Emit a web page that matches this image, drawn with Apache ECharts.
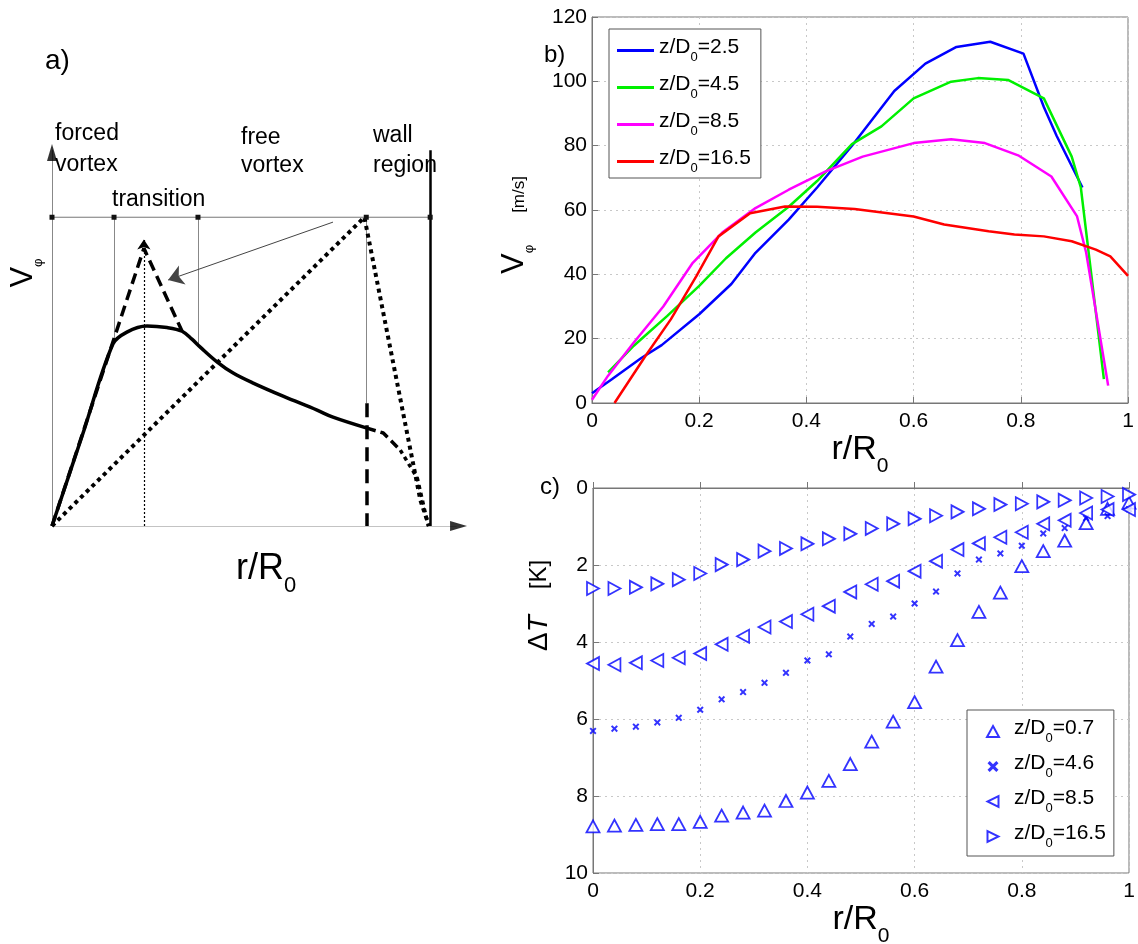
<!DOCTYPE html>
<html><head><meta charset="utf-8">
<script src="https://cdn.jsdelivr.net/npm/echarts@6/dist/echarts.min.js"></script>
<style>html,body{margin:0;padding:0;background:#fff}#c{width:1138px;height:944px}</style>
</head><body><div id="c"></div>
<script>
// ---------------- Panel b : tangential velocity profiles ----------------
const bX_25 = [0,0.037,0.092,0.13,0.2,0.26,0.305,0.367,0.42,0.485,0.564,0.622,0.68,0.743,0.805,0.843,0.867,0.915];
const bV_25 = [3,7.4,14,18,27.6,37,46.7,57,67,80,97,105.5,110.7,112.3,108.6,92,83,67];
const bX_45 = [0.03,0.078,0.14,0.2,0.25,0.305,0.367,0.42,0.485,0.54,0.6,0.67,0.72,0.777,0.843,0.895,0.912,0.955];
const bV_45 = [9.5,17.8,27,36.4,45,53,61,69,80.5,86,94.7,99.9,101,100.4,94.7,76.6,67,7.4];
const bX_85 = [0,0.03,0.078,0.133,0.188,0.243,0.305,0.367,0.436,0.505,0.6,0.67,0.733,0.795,0.857,0.905,0.922,0.963];
const bV_85 = [1,8.5,18.8,30,43.6,53,60.6,66.3,72,76.6,80.8,82,80.8,77,70.4,58,46.7,5.4];
const bX_165 = [0.042,0.1,0.147,0.195,0.236,0.295,0.36,0.42,0.49,0.6,0.657,0.74,0.788,0.843,0.895,0.94,0.967,1.0];
const bV_165 = [0,14.7,26,39.5,51.8,59,61.1,61,60.3,58,55.5,53.4,52.4,51.8,50.3,47.7,45.6,39.5];
const bNames = ['z/D0=2.5','z/D0=4.5','z/D0=8.5','z/D0=16.5'];
const bColors = ['#0000ff','#00f000','#ff00ff','#ff0000'];

// ---------------- Panel c : temperature difference ----------------
const rPos = [0,0.04,0.08,0.12,0.16,0.2,0.24,0.28,0.32,0.36,0.4,0.44,0.48,0.52,0.56,0.6,0.64,0.68,0.72,0.76,0.8,0.84,0.88,0.92,0.96,1.0];
const dT_07 = [8.79,8.77,8.75,8.73,8.73,8.67,8.51,8.43,8.38,8.13,7.91,7.61,7.17,6.59,6.07,5.56,4.64,3.95,3.22,2.72,2.03,1.64,1.37,0.91,0.54,0.38];
const dT_46 = [6.31,6.25,6.2,6.09,5.97,5.76,5.49,5.3,5.06,4.8,4.48,4.32,3.86,3.53,3.34,3.0,2.69,2.22,1.86,1.7,1.5,1.18,1.04,0.78,0.73,0.55];
const dT_85 = [4.56,4.59,4.54,4.48,4.41,4.3,4.06,3.85,3.61,3.47,3.28,3.07,2.7,2.5,2.42,2.16,1.9,1.6,1.44,1.28,1.15,0.93,0.84,0.65,0.56,0.56];
const dT_165 = [2.61,2.61,2.58,2.49,2.38,2.22,1.99,1.86,1.64,1.57,1.45,1.32,1.19,1.05,0.93,0.8,0.72,0.62,0.54,0.43,0.41,0.36,0.32,0.26,0.22,0.17];
const cNames = ['ΔT z/D0=0.7','ΔT z/D0=4.6','ΔT z/D0=8.5','ΔT z/D0=16.5'];

// ---------------- Panel a : schematic (normalised units) ----------------
const aSolidU = [0,0.08,0.161,0.198,0.251,0.304,0.344,0.370,0.392,0.437,0.479,0.532,0.611,0.701,0.743,0.833];
const aSolidV = [0,0.297,0.597,0.636,0.656,0.651,0.639,0.613,0.587,0.538,0.502,0.469,0.426,0.380,0.357,0.321];
const aPeakU = [0,0.243,0.344];
const aPeakV = [0,0.911,0.639];
const aTailDashU = [0.833,0.876,0.921];
const aTailDashV = [0.321,0.305,0.249];
const aTailDotU = [0.921,0.966,0.995];
const aTailDotV = [0.249,0.157,0];
const aBigDotU = [0,0.826,0.974,0.997];
const aBigDotV = [0,1.013,0.085,0];
const aTopU = [0,0.164,0.386,0.831,1.0];
const aTopV = 1.013;
const aThinVert = [[0.164,1.013,0.6],[0.386,1.013,0.59],[0.831,1.013,0.403]];
const aWallDash = [0.831,0.403,0];
const aWall = [1.0,1.233,0];
const aPeakDotted = [0.243,0,0.94];
const aAxisY = [0,0,1.235];
const aAxisX = [0,0,1.07];
const aArrowY = [0, 1.225];
const aArrowX = [1.075, 0];
const aPointer = [[0.743,0.997],[0.307,0.807]];

const FONT = '"Liberation Sans", Arial, sans-serif';
const pairs = (xs, ys) => xs.map((x, i) => [x, ys[i]]);
const subFmt = (name) => { const v = name.split('=')[1]; return '{t|z/D}{s|0}{t|=' + v + '}'; };
const subFmtC = (name) => { const v = name.split('=')[1]; return '{g|}{t|z/D}{s|0}{t|=' + v + '}'; };
const legRich = {
  g: {width: 10},
  t: {fontSize: 21, fontFamily: FONT, color: '#000', padding: [0,0,6,0], verticalAlign: 'bottom'},
  s: {fontSize: 13, fontFamily: FONT, color: '#000', verticalAlign: 'bottom'}
};
const xPath = 'path://M0,2 L2,0 L5,3 L8,0 L10,2 L7,5 L10,8 L8,10 L5,7 L2,10 L0,8 L3,5 Z';
const leftTri = 'path://M10,0 L10,10 L0,5 Z';
const rightTri = 'path://M0,0 L0,10 L10,5 Z';

const axisCommon = {
  axisLine: {show: true, lineStyle: {color: '#777', width: 1}},
  axisTick: {show: true, inside: true, length: 6, lineStyle: {color: '#777'}},
  splitLine: {show: true, lineStyle: {color: '#c8c8c8', type: [2,4], width: 1}},
  axisLabel: {color: '#000', fontSize: 21, fontFamily: FONT}
};

const series = [];
// panel b
[[bX_25,bV_25],[bX_45,bV_45],[bX_85,bV_85],[bX_165,bV_165]].forEach((d, i) => {
  series.push({type: 'line', name: bNames[i], xAxisIndex: 0, yAxisIndex: 0, data: pairs(d[0], d[1]),
    symbol: 'none', lineStyle: {color: bColors[i], width: 2.5}, itemStyle: {color: bColors[i]}, z: 3});
});
// panel c
const triStyle = {color: '#fff', borderColor: '#0000ff', borderWidth: 1.8};
series.push({type: 'scatter', name: cNames[0], xAxisIndex: 1, yAxisIndex: 1, data: pairs(rPos, dT_07),
  symbol: 'triangle', symbolSize: [13, 12], itemStyle: triStyle});
series.push({type: 'scatter', name: cNames[1], xAxisIndex: 1, yAxisIndex: 1, data: pairs(rPos, dT_46),
  symbol: xPath, symbolSize: 7, itemStyle: {color: '#0000ff'}});
series.push({type: 'scatter', name: cNames[2], xAxisIndex: 1, yAxisIndex: 1, data: pairs(rPos, dT_85),
  symbol: 'triangle', symbolRotate: 90, symbolSize: [13, 12], itemStyle: triStyle});
series.push({type: 'scatter', name: cNames[3], xAxisIndex: 1, yAxisIndex: 1, data: pairs(rPos, dT_165),
  symbol: 'triangle', symbolRotate: -90, symbolSize: [13, 12], itemStyle: triStyle});

// panel a
const aLine = (xs, ys, width, type, color, smooth) => ({type: 'line', xAxisIndex: 2, yAxisIndex: 2,
  data: pairs(xs, ys), symbol: 'none', smooth: smooth || false, silent: true,
  lineStyle: {color: color || '#000', width: width, type: type || 'solid', cap: 'butt'}});
series.push(aLine(aBigDotU, aBigDotV, 4, [4,4]));
series.push(aLine(aPeakU, aPeakV, 3.5, [11,6]));
series.push(aLine(aTailDashU, aTailDashV, 3.5, [9,5]));
series.push(aLine(aTailDotU, aTailDotV, 3.5, [4,4]));
series.push(aLine(aSolidU, aSolidV, 3.5, 'solid', '#000', 0.35));
series.push({type: 'line', xAxisIndex: 2, yAxisIndex: 2, silent: true, data: aTopU.map(u => [u, aTopV]),
  symbol: 'rect', symbolSize: 5, showSymbol: true, itemStyle: {color: '#111'},
  lineStyle: {color: '#777', width: 1}});
const seg = (arr) => [[arr[0], arr[1]], [arr[0], arr[2]]];
series.push({type: 'lines', coordinateSystem: 'cartesian2d', xAxisIndex: 2, yAxisIndex: 2, silent: true,
  symbol: 'none', lineStyle: {color: '#888', width: 1, opacity: 1},
  data: aThinVert.map(a => ({coords: seg(a)}))});
series.push({type: 'lines', coordinateSystem: 'cartesian2d', xAxisIndex: 2, yAxisIndex: 2, silent: true,
  symbol: 'none', lineStyle: {color: '#000', width: 3.5, type: [14,8], opacity: 1},
  data: [{coords: seg(aWallDash)}]});
series.push({type: 'lines', coordinateSystem: 'cartesian2d', xAxisIndex: 2, yAxisIndex: 2, silent: true,
  symbol: 'none', lineStyle: {color: '#000', width: 2.5, opacity: 1},
  data: [{coords: seg(aWall)}]});
series.push({type: 'lines', coordinateSystem: 'cartesian2d', xAxisIndex: 2, yAxisIndex: 2, silent: true,
  symbol: ['none', 'arrow'], symbolSize: 10, lineStyle: {color: '#000', width: 1.2, type: [2,2], opacity: 1},
  data: [{coords: seg(aPeakDotted)}]});
series.push({type: 'lines', coordinateSystem: 'cartesian2d', xAxisIndex: 2, yAxisIndex: 2, silent: true,
  symbol: 'none', lineStyle: {color: '#888', width: 1, opacity: 1},
  data: [{coords: seg(aAxisY)}, {coords: [[aAxisX[0], aAxisX[1]], [aAxisX[2], aAxisX[1]]]}]});
series.push({type: 'scatter', xAxisIndex: 2, yAxisIndex: 2, silent: true, data: [aArrowY],
  symbol: 'triangle', symbolSize: [10, 17], itemStyle: {color: '#000'}});
series.push({type: 'scatter', xAxisIndex: 2, yAxisIndex: 2, silent: true, data: [aArrowX],
  symbol: 'triangle', symbolRotate: -90, symbolSize: [10, 17], itemStyle: {color: '#000'}});
series.push({type: 'lines', coordinateSystem: 'cartesian2d', xAxisIndex: 2, yAxisIndex: 2, silent: true,
  symbol: ['none', 'arrow'], symbolSize: 15, lineStyle: {color: '#444', width: 1, opacity: 1},
  data: [{coords: aPointer}]});

const txt = (text, x, y, size, extra) => Object.assign({type: 'text', x: x, y: y,
  style: {text: text, font: size + 'px ' + FONT, fill: '#000', verticalAlign: 'middle'}}, extra || {});

const xNameRich = {r: {fontSize: 34, fontFamily: FONT, color: '#000', padding: [0,0,10,0], verticalAlign: 'bottom'},
  s: {fontSize: 21, fontFamily: FONT, color: '#000', verticalAlign: 'bottom'}};

const option = {
  backgroundColor: '#fff',
  animation: false,
  grid: [
    {left: 592, top: 17, width: 536, height: 386, show: true, borderColor: '#777', borderWidth: 1, containLabel: false, outerBoundsMode: 'none'},
    {left: 593, top: 488, width: 536, height: 385, show: true, borderColor: '#777', borderWidth: 1, containLabel: false, outerBoundsMode: 'none'},
    {left: 52, top: 145, width: 416, height: 381, show: false, containLabel: false, outerBoundsMode: 'none'}
  ],
  xAxis: [
    Object.assign({}, axisCommon, {gridIndex: 0, type: 'value', min: 0, max: 1, interval: 0.2,
      axisLabel: Object.assign({}, axisCommon.axisLabel, {margin: 8}),
      name: '{r|r/R}{s|0}', nameLocation: 'middle', nameGap: 22, nameTextStyle: {rich: xNameRich}}),
    Object.assign({}, axisCommon, {gridIndex: 1, type: 'value', min: 0, max: 1, interval: 0.2,
      axisLabel: Object.assign({}, axisCommon.axisLabel, {margin: 8}),
      name: '{r|r/R}{s|0}', nameLocation: 'middle', nameGap: 26, nameTextStyle: {rich: xNameRich}}),
    {gridIndex: 2, type: 'value', min: 0, max: 1.1, show: false}
  ],
  yAxis: [
    Object.assign({}, axisCommon, {gridIndex: 0, type: 'value', min: 0, max: 120, interval: 20,
      axisLabel: Object.assign({}, axisCommon.axisLabel, {margin: 5}),
      name: '{v|V}{p|φ}{sp|}{u|[m/s]}', nameLocation: 'middle', nameRotate: 90, nameGap: 56,
      nameTextStyle: {padding: [0,30,0,0], rich: {
        sp: {width: 32},
        v: {fontSize: 31, fontFamily: FONT, color: '#000', padding: [0,0,6,0], verticalAlign: 'bottom'},
        p: {fontSize: 13, fontFamily: FONT, color: '#000', verticalAlign: 'bottom'},
        u: {fontSize: 17, fontFamily: FONT, color: '#000', padding: [0,0,8,0], verticalAlign: 'bottom'}}}}),
    Object.assign({}, axisCommon, {gridIndex: 1, type: 'value', min: 0, max: 10, interval: 2, inverse: true,
      axisLabel: Object.assign({}, axisCommon.axisLabel, {margin: 5}),
      name: '{d|Δ}{i|T}{sp|}{k|[K]}', nameLocation: 'middle', nameRotate: 90, nameGap: 40,
      nameTextStyle: {padding: [0,0,0,150], rich: {
        sp: {width: 26},
        d: {fontSize: 28, fontFamily: FONT, color: '#000'},
        i: {fontSize: 28, fontFamily: FONT, fontStyle: 'italic', color: '#000'},
        k: {fontSize: 24, fontFamily: FONT, color: '#000'}}}}),
    {gridIndex: 2, type: 'value', min: 0, max: 1.25, show: false}
  ],
  legend: [
    {data: bNames, orient: 'vertical', left: 609, top: 29, itemWidth: 37, itemHeight: 3, itemGap: 10,
      icon: 'rect', padding: [8, 10, 3, 8], borderColor: '#555', borderWidth: 1, backgroundColor: '#fff',
      formatter: subFmt, textStyle: {rich: legRich}, selectedMode: false},
    {data: [{name: cNames[0], icon: 'triangle'}, {name: cNames[1], icon: xPath},
            {name: cNames[2], icon: leftTri}, {name: cNames[3], icon: rightTri}],
      orient: 'vertical', left: 967, top: 710, itemWidth: 12, itemHeight: 11, itemGap: 8,
      padding: [8, 8, 6, 19], borderColor: '#555', borderWidth: 1, backgroundColor: '#fff',
      formatter: subFmtC, textStyle: {rich: legRich}, selectedMode: false}
  ],
  graphic: [
    txt('a)', 45, 61, 28),
    txt('forced', 55, 134, 23), txt('vortex', 55, 165, 23),
    txt('free', 241, 138, 23), txt('vortex', 241, 166, 23),
    txt('wall', 373, 136, 23), txt('region', 373, 166, 23),
    txt('transition', 112, 200, 23),
    {type: 'text', x: 26, y: 273, rotation: Math.PI / 2,
      style: {text: '{v|V}{p|φ}', align: 'center', verticalAlign: 'middle', rich: {
        v: {fontSize: 31, fontFamily: FONT, fill: '#000', padding: [0,0,6,0], verticalAlign: 'bottom'},
        p: {fontSize: 13, fontFamily: FONT, fill: '#000', verticalAlign: 'bottom'}}}},
    {type: 'text', x: 266, y: 574,
      style: {text: '{r|r/R}{s|0}', align: 'center', verticalAlign: 'middle', rich: {
        r: {fontSize: 36, fontFamily: FONT, fill: '#000', padding: [0,0,10,0], verticalAlign: 'bottom'},
        s: {fontSize: 22, fontFamily: FONT, fill: '#000', verticalAlign: 'bottom'}}}},
    txt('b)', 544, 55, 24),
    txt('c)', 540, 487, 24)
  ],
  series: series
};
const chart = echarts.init(document.getElementById('c'), null, {renderer: 'canvas'});
chart.setOption(option);
</script>
</body></html>
